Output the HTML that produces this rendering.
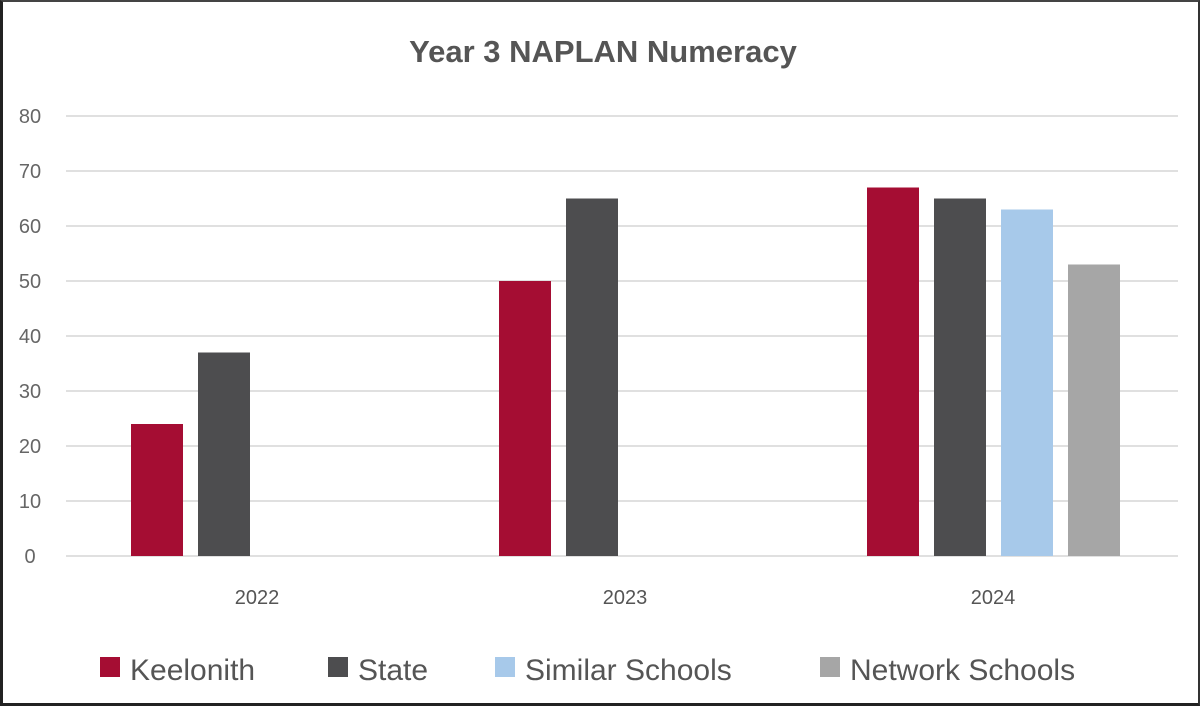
<!DOCTYPE html>
<html><head><meta charset="utf-8"><style>
html,body{margin:0;padding:0;background:#fff}
#wrap{position:relative;width:1200px;height:706px;box-sizing:border-box;border:3px solid #222;border-top:2px solid #444;border-right:2px solid #333;overflow:hidden;background:#fff}
svg{position:absolute;left:-3px;top:-2px}
text{font-family:"Liberation Sans",sans-serif}
</style></head><body>
<div id="wrap">
<svg id="chart" width="1200" height="706"></svg>
</div>
<script>
const categories=["2022","2023","2024"];
const seriesNames=["Keelonith","State","Similar Schools","Network Schools"];
const keelonith=[24,50,67];
const state=[37,65,65];
const similar=[null,null,63];
const network=[null,null,53];
const yTicks=[0,10,20,30,40,50,60,70,80];
const seriesValues=[keelonith,state,similar,network];
const colors=["#a50d33","#4d4d4f","#a7c9ea","#a6a6a6"];
const NS="http://www.w3.org/2000/svg";
const svg=document.getElementById("chart");
const x0=73,x1=1177,y0=556,yTop=116,yMax=80;
const bandW=(x1-x0)/categories.length;
const y=v=>y0-(v/yMax)*(y0-yTop);
const bx=(ci,si)=>x0+bandW*(ci+0.5)-126+si*67;
function el(t,a,txt){const e=document.createElementNS(NS,t);for(const k in a)e.setAttribute(k,a[k]);if(txt!=null)e.textContent=txt;svg.appendChild(e);return e;}
let t=el("text",{x:603,y:62,"text-anchor":"middle","font-size":"31","font-weight":"bold",fill:"#555"},"Year 3 NAPLAN Numeracy");


yTicks.forEach(v=>{
 const g=el("line",{x1:66,x2:1178,y1:y(v),y2:y(v),stroke:"#e0e0e0","stroke-width":2});
 
 
 const l=el("text",{x:30,y:y(v)+7,"text-anchor":"middle","font-size":"20",fill:"#666"},String(v));
 
 
});
categories.forEach((c,ci)=>{
 const l=el("text",{x:x0+bandW*(ci+0.5),y:604,"text-anchor":"middle","font-size":"20",fill:"#555"},c);
 
 
 seriesValues.forEach((arr,si)=>{
  const v=arr[ci]; if(v==null)return;
  const r=el("rect",{x:bx(ci,si),y:y(v),width:52,height:y0-y(v),fill:colors[si]});
  
  
 });
});
const legX=[100,328,495,820];
seriesNames.forEach((n,i)=>{
 const s=el("rect",{x:legX[i],y:657,width:20,height:20,fill:colors[i]});
 
 
 const l=el("text",{x:legX[i]+30,y:680,"font-size":"30",fill:"#555"},n);
 
 
});
</script>
</body></html>
